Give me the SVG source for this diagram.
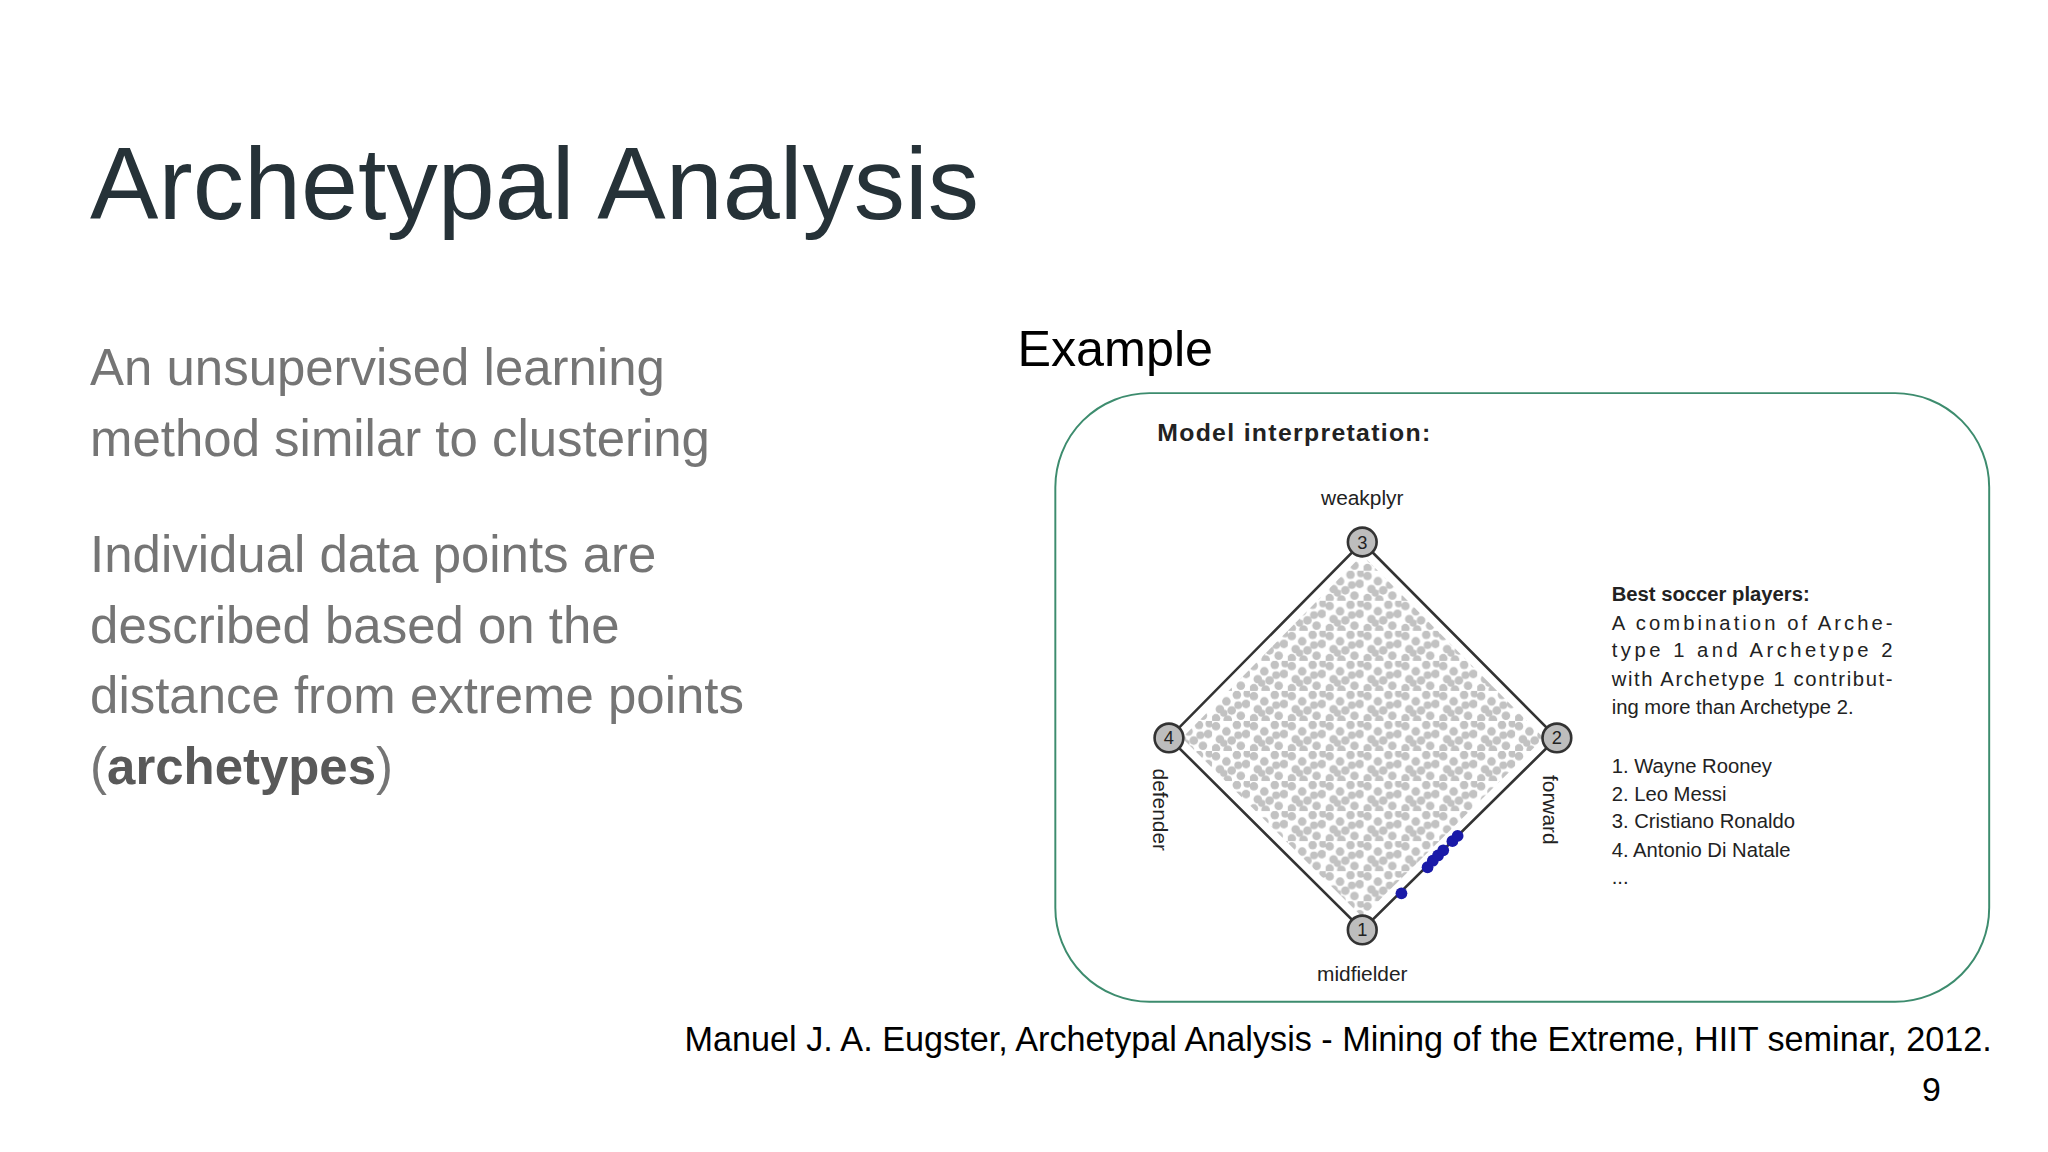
<svg xmlns="http://www.w3.org/2000/svg" width="2048" height="1152" viewBox="0 0 2048 1152">
<defs>
<style>
.s{font-family:"Liberation Sans",Arial,sans-serif}
.body{font-size:39px;fill:#757575}
.sm{font-size:15.5px;fill:#222}
.node circle{fill:#bdbdbd;stroke:#333;stroke-width:2}
.node text{font-size:14px;fill:#222;text-anchor:middle}
</style>
<pattern id="dots" width="29" height="23" patternUnits="userSpaceOnUse">
<g fill="#c2c2c2">
<circle cx="3" cy="4" r="3.3"/><circle cx="11" cy="8" r="3.3"/><circle cx="19" cy="3" r="3.3"/><circle cx="26" cy="10" r="3.3"/>
<circle cx="6" cy="14" r="3.3"/><circle cx="15" cy="15" r="3.3"/><circle cx="22" cy="19" r="3.3"/><circle cx="3" cy="21" r="3.3"/>
<circle cx="12" cy="22" r="3.3"/><circle cx="27" cy="2" r="3"/><circle cx="20" cy="11" r="3"/><circle cx="9" cy="17" r="2.8"/>
</g>
</pattern>
<clipPath id="dia"><polygon points="1043,425 1182,565 1043,702 905,565"/></clipPath>
</defs>
<rect width="2048" height="1152" fill="#fff"/>
<g transform="scale(1.3061)">
<g id="title"><text class="s" x="69" y="168" font-size="78.5" fill="#263238">Archetypal Analysis</text></g>
<g id="bodytext" class="s body">
<text x="69" y="295">An unsupervised learning</text>
<text x="69" y="349">method similar to clustering</text>
<text x="69" y="438">Individual data points are</text>
<text x="69" y="492">described based on the</text>
<text x="69" y="546">distance from extreme points</text>
<text x="69" y="600">(<tspan font-weight="bold" fill="#595959">archetypes</tspan>)</text>
</g>
<g id="example-label"><text class="s" x="779" y="280" font-size="38.5" fill="#000">Example</text></g>
<g id="figure">
<rect x="808" y="301" width="715" height="466" rx="72" fill="#fff" stroke="#3d8c6e" stroke-width="1.5"/>
<text class="s" x="886" y="338" font-size="19" font-weight="bold" fill="#222" textLength="209">Model interpretation:</text>
<rect x="890" y="410" width="310" height="310" fill="url(#dots)" clip-path="url(#dia)"/>
<polygon points="1043,415 1192,565 1043,712 895,565" fill="none" stroke="#333" stroke-width="2"/>
<g fill="#1a1aa8">
<circle cx="1073" cy="684" r="4.5"/><circle cx="1093" cy="664" r="4.5"/><circle cx="1097" cy="659" r="4.5"/><circle cx="1101" cy="655" r="4.5"/><circle cx="1105" cy="651" r="4.5"/><circle cx="1112" cy="644" r="4.5"/><circle cx="1116" cy="640" r="4.5"/>
</g>
<g id="a3" class="node s"><circle cx="1043" cy="415" r="11"/><text x="1043" y="420">3</text></g>
<g id="a2" class="node s"><circle cx="1192" cy="565" r="11"/><text x="1192" y="570">2</text></g>
<g id="a1" class="node s"><circle cx="1043" cy="712" r="11"/><text x="1043" y="717">1</text></g>
<g id="a4" class="node s"><circle cx="895" cy="565" r="11"/><text x="895" y="570">4</text></g>
<g class="s" font-size="16" fill="#222">
<text x="1043" y="387" text-anchor="middle">weakplyr</text>
<text x="1043" y="751" text-anchor="middle">midfielder</text>
<text transform="translate(883,620) rotate(90)" text-anchor="middle">defender</text>
<text transform="translate(1181,620) rotate(90)" text-anchor="middle">forward</text>
</g>
<g class="s sm">
<text x="1234" y="460" font-weight="bold">Best soccer players:</text>
<text x="1234" y="482" textLength="215">A combination of Arche-</text>
<text x="1234" y="503" textLength="215">type 1 and Archetype 2</text>
<text x="1234" y="525" textLength="215">with Archetype 1 contribut-</text>
<text x="1234" y="547">ing more than Archetype 2.</text>
<text x="1234" y="592">1. Wayne Rooney</text>
<text x="1234" y="613">2. Leo Messi</text>
<text x="1234" y="634">3. Cristiano Ronaldo</text>
<text x="1234" y="656">4. Antonio Di Natale</text>
<text x="1234" y="677">...</text>
</g>
</g>
<g id="citation"><text class="s" x="1525" y="805" font-size="26.2" fill="#000" text-anchor="end">Manuel J. A. Eugster, Archetypal Analysis - Mining of the Extreme, HIIT seminar, 2012.</text></g>
<g id="page"><text class="s" x="1486" y="843" font-size="26" fill="#000" text-anchor="end">9</text></g>
</g>
</svg>
